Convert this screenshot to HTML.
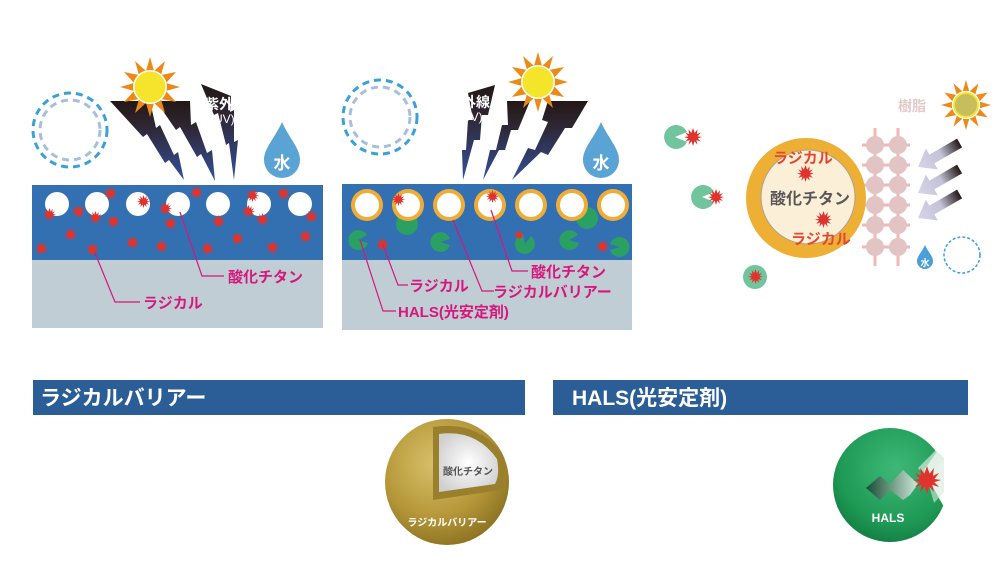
<!DOCTYPE html>
<html><head><meta charset="utf-8"><style>
html,body{margin:0;padding:0;background:#fff;}
svg{display:block;font-family:"Liberation Sans","Noto Sans CJK JP",sans-serif;}
</style></head><body>
<svg width="1000" height="570" viewBox="0 0 1000 570" xmlns="http://www.w3.org/2000/svg">
<defs>
<linearGradient id="bolt" x1="0" y1="0" x2="0" y2="1">
<stop offset="0" stop-color="#231815"/><stop offset="0.3" stop-color="#2e2530"/><stop offset="1" stop-color="#34509c"/></linearGradient>
<linearGradient id="arr" x1="0" y1="0" x2="1" y2="0">
<stop offset="0" stop-color="#d6d4ea"/><stop offset="0.55" stop-color="#c4c2d6"/><stop offset="1" stop-color="#231815"/></linearGradient>
<radialGradient id="gold" cx="0.4" cy="0.35" r="0.7">
<stop offset="0" stop-color="#d8c06a"/><stop offset="0.6" stop-color="#b6983a"/><stop offset="1" stop-color="#8a7020"/></radialGradient>
<radialGradient id="white" cx="0.5" cy="0.5" r="0.6">
<stop offset="0" stop-color="#fff"/><stop offset="1" stop-color="#cfcfcf"/></radialGradient>
<radialGradient id="green" cx="0.55" cy="0.35" r="0.7">
<stop offset="0" stop-color="#3fb877"/><stop offset="0.7" stop-color="#1e9a55"/><stop offset="1" stop-color="#127a40"/></radialGradient>
<linearGradient id="hals" x1="0" y1="0" x2="1" y2="0">
<stop offset="0" stop-color="#174c33"/><stop offset="1" stop-color="#cfe8d8"/></linearGradient>
<symbol id="rad" viewBox="-8 -8 16 16"><polygon fill="#e0332e" points="0,-8 1.5,-3.6 4,-6.9 3.4,-2.4 6.9,-4 4.2,-0.6 8,0 4.2,1.2 6.9,4 3,2.8 4,6.9 1.3,3.8 0,8 -1.3,3.8 -4,6.9 -3,2.8 -6.9,4 -4.2,1.2 -8,0 -4.2,-0.6 -6.9,-4 -3.4,-2.4 -4,-6.9 -1.5,-3.6"/></symbol>
<symbol id="sun" viewBox="-30 -30 60 60">
<polygon fill="#ed8a17" points="0,-30 4,-16 15,-26 11,-12 26,-15 16,-4 30,0 16,4 26,15 11,12 15,26 4,16 0,30 -4,16 -15,26 -11,12 -26,15 -16,4 -30,0 -16,-4 -26,-15 -11,-12 -15,-26 -4,-16"/>
<circle r="17" fill="#fff"/><circle r="15.5" fill="#f5e52a"/></symbol>
<g id="arrow"><polygon points="0,0 16,-12 16,-5 48,-5 48,5 16,5 16,12" fill="url(#arr)"/></g>
</defs>

<!-- PANEL 1 -->
<circle cx="70" cy="130" r="37" fill="none" stroke="#3aa0d8" stroke-width="3" stroke-dasharray="7 5"/>
<circle cx="70" cy="130" r="30" fill="none" stroke="#a8bfdc" stroke-width="3" stroke-dasharray="7 5"/>
<polygon fill="url(#bolt)" points="110,101 143,137 147,134 165,163 169,160 184,180 178,152 174,155 160,125 156,128 150,101"/>
<polygon fill="url(#bolt)" points="156,101 176,130 180,127 197,157 201,154 215,181 212,150 207,153 196,122 191,125 190,101"/>
<polygon fill="url(#bolt)" points="201,84 214,115 218,113 226,145 229,143 234,180 238,140 234,142 234,110 230,112 231,96"/>
<use href="#sun" x="120" y="57" width="60" height="60"/>
<text x="205" y="109" font-size="14" fill="#fff" font-weight="bold">紫外線</text>
<text x="210" y="123" font-size="12" fill="#fff">(UV)</text>
<path d="M282,122 C275,138 264,148 264,160 a18,18 0 0 0 36,0 C300,148 289,138 282,122z" fill="#5aa3d5"/>
<text x="282" y="169" font-size="17" font-weight="bold" fill="#fff" text-anchor="middle">水</text>
<rect x="32" y="185" width="291" height="75" fill="#3370b2"/>
<rect x="32" y="260" width="291" height="68" fill="#c1cdd5"/>
<g fill="#fff">
<circle cx="57" cy="204" r="12"/><circle cx="97" cy="204" r="12"/><circle cx="138" cy="204" r="12"/><circle cx="178" cy="204" r="12"/><circle cx="218" cy="204" r="12"/><circle cx="259" cy="204" r="12"/><circle cx="300" cy="204" r="12"/></g>
<g>
<use href="#rad" x="104" y="187" width="13" height="13"/><use href="#rad" x="43" y="208" width="13" height="13"/><use href="#rad" x="72" y="205" width="13" height="13"/><use href="#rad" x="89" y="211" width="13" height="13"/><use href="#rad" x="107" y="215" width="13" height="13"/><use href="#rad" x="137" y="195" width="13" height="13"/><use href="#rad" x="159" y="202" width="13" height="13"/><use href="#rad" x="164" y="217" width="13" height="13"/><use href="#rad" x="190" y="186" width="13" height="13"/><use href="#rad" x="212" y="215" width="13" height="13"/><use href="#rad" x="246" y="189" width="13" height="13"/><use href="#rad" x="242" y="205" width="13" height="13"/><use href="#rad" x="256" y="213" width="13" height="13"/><use href="#rad" x="277" y="187" width="13" height="13"/><use href="#rad" x="305" y="210" width="13" height="13"/><use href="#rad" x="64" y="228" width="13" height="13"/><use href="#rad" x="35" y="242" width="13" height="13"/><use href="#rad" x="86" y="243" width="13" height="13"/><use href="#rad" x="126" y="236" width="13" height="13"/><use href="#rad" x="155" y="240" width="13" height="13"/><use href="#rad" x="201" y="242" width="13" height="13"/><use href="#rad" x="231" y="232" width="13" height="13"/><use href="#rad" x="266" y="241" width="13" height="13"/><use href="#rad" x="299" y="230" width="13" height="13"/></g>
<g stroke="#d6177b" stroke-width="1.2" fill="none">
<polyline points="180,212 202,276 224,276"/><polyline points="95,253 115,302 140,302"/></g>
<g fill="#d6177b" font-size="15" font-weight="bold">
<text x="228" y="282">酸化チタン</text><text x="143" y="308">ラジカル</text></g>

<!-- PANEL 2 -->
<circle cx="380" cy="117" r="37" fill="none" stroke="#3aa0d8" stroke-width="3" stroke-dasharray="7 5"/>
<circle cx="380" cy="117" r="30" fill="none" stroke="#a8bfdc" stroke-width="3" stroke-dasharray="7 5"/>
<polygon fill="url(#bolt)" points="468,93 495,85 488,115 482,115 480,140 474,140 463,180 462,150 466,150 468,120 473,120"/>
<polygon fill="url(#bolt)" points="507,101 530,101 518,130 511,130 505,150 499,150 483,180 490,150 496,150 502,125 508,125"/>
<polygon fill="url(#bolt)" points="548,101 588,101 572,128 565,128 548,155 541,152 512,180 528,148 535,150 548,122 542,120"/>
<use href="#sun" x="508" y="52" width="60" height="60"/>
<text x="462" y="107" font-size="14" fill="#fff" font-weight="bold">外線</text>
<text x="462" y="121" font-size="12" fill="#fff">UV)</text>
<path d="M601,122 C594,138 583,148 583,160 a18,18 0 0 0 36,0 C619,148 608,138 601,122z" fill="#5aa3d5"/>
<text x="601" y="169" font-size="17" font-weight="bold" fill="#fff" text-anchor="middle">水</text>
<rect x="342" y="184" width="290" height="76" fill="#3370b2"/>
<rect x="342" y="260" width="290" height="70" fill="#c1cdd5"/>
<g fill="#2aa163">
<circle cx="407" cy="224" r="11"/><circle cx="587" cy="218" r="11"/></g>
<g fill="#f0ad35"><circle cx="367" cy="205" r="16"/><circle cx="408" cy="205" r="16"/><circle cx="449" cy="205" r="16"/><circle cx="490" cy="205" r="16"/><circle cx="531" cy="205" r="16"/><circle cx="572" cy="205" r="16"/><circle cx="613" cy="205" r="16"/></g>
<g fill="#fff"><circle cx="367" cy="205" r="12"/><circle cx="408" cy="205" r="12"/><circle cx="449" cy="205" r="12"/><circle cx="490" cy="205" r="12"/><circle cx="531" cy="205" r="12"/><circle cx="572" cy="205" r="12"/><circle cx="613" cy="205" r="12"/></g>
<g fill="#2aa163">
<path d="M358,240 l10,3 a10,10 0 1 1 -1,-8z"/>
<path d="M440,242 l10,-3 a10,10 0 1 0 0,6z"/>
<path d="M525,244 l-2,-10 a10,10 0 1 0 8,2z"/>
<path d="M569,240 l10,3 a10,10 0 1 1 -1,-8z"/>
<path d="M620,247 l-10,-3 a10,10 0 1 1 0,6z"/></g>
<use href="#rad" x="392" y="193" width="13" height="13"/><use href="#rad" x="486" y="190" width="13" height="13"/><use href="#rad" x="376" y="238" width="13" height="13"/><use href="#rad" x="596" y="240" width="13" height="13"/><use href="#rad" x="514" y="230" width="10" height="10"/>
<g stroke="#d6177b" stroke-width="1.2" fill="none">
<polyline points="491,210 512,271 528,271"/><polyline points="453,220 482,291 494,291"/><polyline points="383,245 398,285 408,285"/><polyline points="360,240 383,311 396,311"/></g>
<g fill="#d6177b" font-size="15" font-weight="bold">
<text x="531" y="277">酸化チタン</text><text x="493" y="297">ラジカルバリアー</text><text x="409" y="291">ラジカル</text><text x="398" y="317">HALS(光安定剤)</text></g>

<!-- RIGHT -->
<g fill="#71c59c">
<path d="M675,137 l12,-5 a12,12 0 1 0 0,10z"/>
<path d="M702,197 l12,-5 a12,12 0 1 0 0,10z"/>
<circle cx="755" cy="277" r="12"/></g>
<use href="#rad" x="684" y="128" width="18" height="18"/><use href="#rad" x="708" y="189" width="16" height="16"/><use href="#rad" x="748" y="269" width="15" height="15"/>
<g stroke="#f6b6b2" stroke-width="3">
<line x1="875" y1="128" x2="875" y2="266"/><line x1="898" y1="128" x2="898" y2="266"/>
<line x1="862" y1="145" x2="910" y2="145"/><line x1="862" y1="165" x2="910" y2="165"/><line x1="862" y1="185" x2="910" y2="185"/><line x1="862" y1="205" x2="910" y2="205"/><line x1="862" y1="225" x2="910" y2="225"/><line x1="862" y1="247" x2="910" y2="247"/></g>
<g fill="#e2c4c4">
<circle cx="875" cy="145" r="9"/><circle cx="898" cy="145" r="9"/><circle cx="875" cy="165" r="9"/><circle cx="898" cy="165" r="9"/><circle cx="875" cy="185" r="9"/><circle cx="898" cy="185" r="9"/><circle cx="875" cy="205" r="9"/><circle cx="898" cy="205" r="9"/><circle cx="875" cy="225" r="9"/><circle cx="898" cy="225" r="9"/><circle cx="875" cy="247" r="9"/><circle cx="898" cy="247" r="9"/></g>
<circle cx="806" cy="198" r="60" fill="#edaf34"/>
<circle cx="808" cy="197" r="47" fill="#fcefd8" stroke="#b0a090" stroke-width="1"/>
<use href="#rad" x="797" y="165" width="17" height="17"/><use href="#rad" x="815" y="211" width="17" height="17"/>
<text x="810" y="204" font-size="16" font-weight="bold" fill="#595757" text-anchor="middle">酸化チタン</text>
<text x="773" y="163" font-size="15" font-weight="bold" fill="#e5462f">ラジカル</text>
<text x="791" y="244" font-size="15" font-weight="bold" fill="#e5462f">ラジカル</text>
<text x="898" y="111" font-size="14" font-weight="bold" fill="#e4c9c9">樹脂</text>
<use href="#sun" x="941" y="80" width="50" height="50"/>
<circle cx="966" cy="105" r="11" fill="#c8bd5c"/>
<use href="#arrow" transform="translate(918,167) rotate(-30)"/>
<use href="#arrow" transform="translate(918,193) rotate(-30)"/>
<use href="#arrow" transform="translate(918,218) rotate(-30)"/>
<path d="M925,245 C922,252 917,256 917,261 a8,8 0 0 0 16,0 C933,256 928,252 925,245z" fill="#4a9fd8"/>
<text x="925" y="266" font-size="9" font-weight="bold" fill="#fff" text-anchor="middle">水</text>
<circle cx="962" cy="255" r="18" fill="none" stroke="#3aa0d8" stroke-width="1.5" stroke-dasharray="3 2"/>

<!-- HEADERS -->
<rect x="33" y="380" width="492" height="35" fill="#2b5d96"/>
<text x="40" y="405" font-size="21" font-weight="bold" fill="#fff">ラジカルバリアー</text>
<rect x="553" y="380" width="415" height="35" fill="#2b5d96"/>
<text x="572" y="405" font-size="21" font-weight="bold" fill="#fff">HALS(光安定剤)</text>

<!-- gold sphere -->
<ellipse cx="447" cy="482" rx="62" ry="63" fill="url(#gold)"/>
<path d="M433,427 Q478,420 503,455 Q507,475 501,490 L433,500z" fill="#9a7f2c"/>
<path d="M439,434 Q476,429 497,459 Q500,475 495,484 L439,492z" fill="url(#white)"/>
<text x="468" y="475" font-size="10" font-weight="bold" fill="#555" text-anchor="middle">酸化チタン</text>
<text x="447" y="526" font-size="10" font-weight="bold" fill="#fff" text-anchor="middle">ラジカルバリアー</text>

<!-- green sphere -->
<circle cx="890" cy="485" r="57" fill="url(#green)"/>
<polygon points="955,425 943,443 924,470 940,500 955,525" fill="#fff"/>
<polygon points="918,468 936,450 944,458 927,478" fill="#d4ebdc" opacity="0.7"/>
<polygon points="927,478 944,458 944,492 934,503" fill="#d4ebdc" opacity="0.6"/>
<polygon points="866,488 880,476 890,484 903,470 918,484 910,495 903,500 890,490 880,500" fill="url(#hals)"/>
<use href="#rad" x="913" y="466" width="28" height="28"/>
<text x="888" y="522" font-size="12" font-weight="bold" fill="#fff" text-anchor="middle">HALS</text>
</svg>
</body></html>
